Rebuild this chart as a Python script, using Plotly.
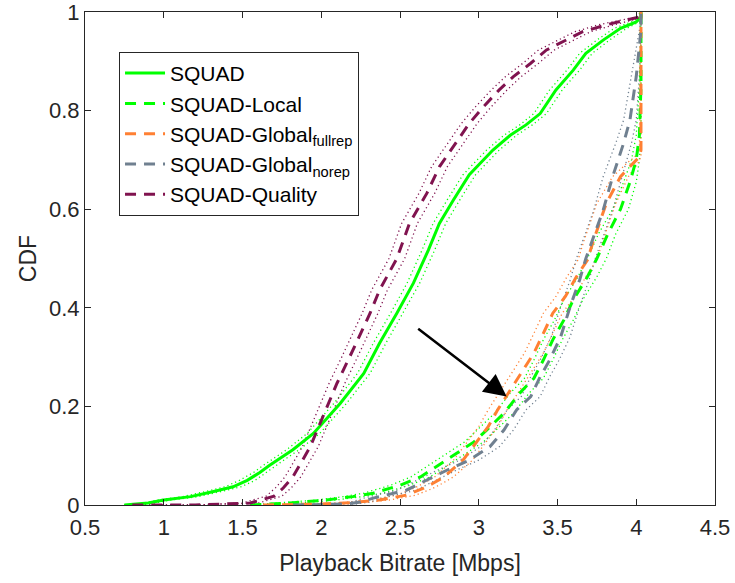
import plotly.graph_objects as go

# ---------------- data ----------------
squad_x = [0.75, 0.90, 1.00, 1.17, 1.31, 1.44, 1.53, 1.61, 1.67, 1.74, 1.82, 1.95, 2.12, 2.27, 2.37, 2.48, 2.585, 2.68, 2.75, 2.84, 2.94, 3.09, 3.20, 3.30, 3.39, 3.49, 3.60, 3.68, 3.79, 3.90, 4.00, 4.03, 4.03]
squad_y = [0, 0.004, 0.01, 0.017, 0.027, 0.037, 0.05, 0.066, 0.08, 0.095, 0.112, 0.145, 0.206, 0.267, 0.328, 0.389, 0.45, 0.517, 0.571, 0.619, 0.67, 0.72, 0.75, 0.771, 0.794, 0.842, 0.882, 0.916, 0.943, 0.967, 0.98, 0.99, 1.0]
squad_lo = [0.75, 0.87, 0.96, 1.12, 1.26, 1.39, 1.48, 1.57, 1.63, 1.70, 1.78, 1.91, 2.08, 2.23, 2.33, 2.44, 2.545, 2.64, 2.71, 2.80, 2.90, 3.05, 3.16, 3.26, 3.35, 3.45, 3.56, 3.64, 3.75, 3.86, 3.97, 4.02, 4.03]
squad_hi = [0.75, 0.94, 1.04, 1.22, 1.36, 1.49, 1.58, 1.65, 1.71, 1.78, 1.86, 1.99, 2.16, 2.31, 2.41, 2.52, 2.625, 2.72, 2.79, 2.88, 2.98, 3.13, 3.24, 3.34, 3.43, 3.53, 3.64, 3.72, 3.83, 3.94, 4.02, 4.03, 4.03]

local_x = [1.55, 1.80, 2.03, 2.20, 2.33, 2.50, 2.63, 2.73, 2.86, 2.97, 3.05, 3.16, 3.26, 3.35, 3.41, 3.47, 3.54, 3.60, 3.69, 3.75, 3.82, 3.90, 3.96, 4.00, 4.02, 4.03, 4.03]
local_y = [0, 0.004, 0.01, 0.017, 0.024, 0.04, 0.057, 0.078, 0.105, 0.128, 0.152, 0.186, 0.227, 0.257, 0.294, 0.335, 0.375, 0.416, 0.463, 0.50, 0.55, 0.60, 0.655, 0.70, 0.75, 0.85, 1.0]
local_lo = [1.55, 1.74, 1.97, 2.14, 2.27, 2.44, 2.57, 2.67, 2.80, 2.91, 2.99, 3.10, 3.20, 3.29, 3.35, 3.41, 3.48, 3.54, 3.63, 3.69, 3.76, 3.85, 3.92, 3.97, 4.00, 4.02, 4.03]
local_hi = [1.55, 1.86, 2.09, 2.26, 2.39, 2.56, 2.69, 2.79, 2.92, 3.03, 3.11, 3.22, 3.32, 3.41, 3.47, 3.53, 3.60, 3.66, 3.75, 3.81, 3.87, 3.95, 4.00, 4.02, 4.03, 4.03, 4.03]

full_x = [1.63, 2.00, 2.20, 2.37, 2.54, 2.65, 2.71, 2.78, 2.90, 2.98, 3.06, 3.12, 3.20, 3.28, 3.35, 3.41, 3.47, 3.55, 3.62, 3.69, 3.73, 3.81, 3.90, 3.98, 4.02, 4.03, 4.03]
full_y = [0, 0.002, 0.005, 0.01, 0.02, 0.034, 0.044, 0.057, 0.091, 0.125, 0.159, 0.193, 0.233, 0.274, 0.308, 0.348, 0.389, 0.423, 0.463, 0.497, 0.538, 0.612, 0.666, 0.693, 0.706, 0.72, 1.0]
full_lo = [1.63, 1.94, 2.14, 2.31, 2.48, 2.59, 2.65, 2.72, 2.84, 2.92, 3.00, 3.06, 3.14, 3.22, 3.29, 3.35, 3.41, 3.49, 3.56, 3.63, 3.67, 3.75, 3.85, 3.94, 3.99, 4.02, 4.03]
full_hi = [1.63, 2.06, 2.26, 2.43, 2.60, 2.71, 2.77, 2.84, 2.96, 3.04, 3.12, 3.18, 3.26, 3.34, 3.41, 3.47, 3.53, 3.61, 3.68, 3.75, 3.79, 3.87, 3.95, 4.01, 4.03, 4.03, 4.03]

norep_x = [1.82, 2.16, 2.25, 2.33, 2.54, 2.67, 2.80, 2.94, 3.07, 3.16, 3.24, 3.33, 3.39, 3.45, 3.52, 3.58, 3.64, 3.68, 3.79, 3.85, 3.92, 3.96, 4.00, 4.03, 4.03]
norep_y = [0, 0.002, 0.006, 0.014, 0.03, 0.051, 0.071, 0.091, 0.118, 0.152, 0.193, 0.22, 0.26, 0.294, 0.341, 0.402, 0.456, 0.50, 0.598, 0.666, 0.734, 0.781, 0.869, 0.963, 1.0]
norep_lo = [1.82, 2.10, 2.19, 2.27, 2.48, 2.61, 2.74, 2.88, 3.01, 3.10, 3.18, 3.27, 3.33, 3.39, 3.46, 3.52, 3.58, 3.62, 3.73, 3.79, 3.87, 3.92, 3.97, 4.02, 4.03]
norep_hi = [1.82, 2.22, 2.31, 2.39, 2.60, 2.73, 2.86, 3.00, 3.13, 3.22, 3.30, 3.39, 3.45, 3.51, 3.58, 3.64, 3.70, 3.74, 3.85, 3.91, 3.97, 4.00, 4.02, 4.03, 4.03]

qual_x = [0.80, 1.20, 1.55, 1.61, 1.70, 1.76, 1.82, 1.93, 2.01, 2.10, 2.18, 2.25, 2.31, 2.37, 2.43, 2.48, 2.56, 2.67, 2.75, 2.84, 2.94, 3.03, 3.13, 3.22, 3.33, 3.43, 3.56, 3.66, 3.81, 3.94, 4.02, 4.03]
qual_y = [0, 0, 0.004, 0.01, 0.018, 0.035, 0.057, 0.118, 0.179, 0.247, 0.30, 0.348, 0.389, 0.436, 0.47, 0.50, 0.571, 0.632, 0.686, 0.727, 0.774, 0.808, 0.842, 0.869, 0.896, 0.923, 0.943, 0.96, 0.974, 0.984, 0.99, 1.0]
qual_lo = [0.80, 1.20, 1.50, 1.56, 1.65, 1.71, 1.77, 1.88, 1.96, 2.05, 2.13, 2.20, 2.26, 2.32, 2.38, 2.43, 2.51, 2.62, 2.70, 2.79, 2.89, 2.98, 3.08, 3.17, 3.28, 3.38, 3.51, 3.61, 3.76, 3.90, 4.00, 4.03]
qual_hi = [0.80, 1.20, 1.60, 1.66, 1.75, 1.81, 1.87, 1.98, 2.06, 2.15, 2.23, 2.30, 2.36, 2.42, 2.48, 2.53, 2.61, 2.72, 2.80, 2.89, 2.99, 3.08, 3.18, 3.27, 3.38, 3.48, 3.61, 3.71, 3.86, 3.98, 4.03, 4.03]

x_ticks = [0.5, 1, 1.5, 2, 2.5, 3, 3.5, 4, 4.5]
x_tick_labels = ["0.5", "1", "1.5", "2", "2.5", "3", "3.5", "4", "4.5"]
y_ticks = [0, 0.2, 0.4, 0.6, 0.8, 1]
y_tick_labels = ["0", "0.2", "0.4", "0.6", "0.8", "1"]

arrow_tail = (2.606, 0.360)
arrow_tip = (3.177, 0.220)

# ---------------- styles ----------------
GREEN = "#00FF00"
ORANGE = "#FF8033"
GRAY = "#708090"
MAROON = "#80134F"
TXT = "#262626"
FONT = "Liberation Sans, Arial, Helvetica, sans-serif"
DASH = "11px,8px"
DOT = "1.2px,3px"

series = [
    ("SQUAD", squad_x, squad_y, squad_lo, squad_hi, GREEN, "solid"),
    ("SQUAD-Local", local_x, local_y, local_lo, local_hi, GREEN, DASH),
    ("SQUAD-Global<sub>fullrep</sub>", full_x, full_y, full_lo, full_hi, ORANGE, DASH),
    ("SQUAD-Global<sub>norep</sub>", norep_x, norep_y, norep_lo, norep_hi, GRAY, DASH),
    ("SQUAD-Quality", qual_x, qual_y, qual_lo, qual_hi, MAROON, DASH),
]

fig = go.Figure()
for name, x, y, lo, hi, col, dash in series:
    for bx in (lo, hi):
        fig.add_trace(go.Scatter(x=bx, y=y, mode="lines", showlegend=False,
                                 hoverinfo="skip",
                                 line=dict(color=col, width=1.3, dash=DOT)))
for name, x, y, lo, hi, col, dash in series:
    fig.add_trace(go.Scatter(x=x, y=y, mode="lines", name=name,
                             line=dict(color=col, width=3, dash=dash)))

fig.add_annotation(x=arrow_tip[0], y=arrow_tip[1], ax=arrow_tail[0], ay=arrow_tail[1],
                   xref="x", yref="y", axref="x", ayref="y", text="",
                   showarrow=True, arrowhead=2, arrowsize=1.8, arrowwidth=2.5,
                   arrowcolor="black")

axis_common = dict(showline=True, linecolor=TXT, linewidth=1, mirror="ticks",
                   ticks="inside", ticklen=6, tickcolor=TXT, showgrid=False,
                   zeroline=False, automargin=False, ticklabeloverflow="allow",
                   tickfont=dict(family=FONT, size=22, color=TXT))

fig.update_xaxes(range=[0.5, 4.5], tickvals=x_ticks, ticktext=x_tick_labels,
                 ticklabelstandoff=3,
                 title=dict(text="Playback Bitrate [Mbps]", standoff=15,
                            font=dict(family=FONT, size=23, color=TXT)),
                 **axis_common)
fig.update_yaxes(range=[0, 1], tickvals=y_ticks, ticktext=y_tick_labels,
                 title=dict(text="CDF", standoff=5,
                            font=dict(family=FONT, size=23, color=TXT)),
                 **axis_common)

fig.update_layout(
    width=735, height=583,
    margin=dict(l=85, r=20, t=12, b=78),
    plot_bgcolor="white", paper_bgcolor="white",
    legend=dict(x=0.054, y=0.919, xanchor="left", yanchor="top",
                bgcolor="white", bordercolor=TXT, borderwidth=1,
                font=dict(family=FONT, size=21, color="black"),
                tracegroupgap=0, itemwidth=40),
)

fig.write_html("out.html", config={"displayModeBar": False},
               post_script="document.body.style.margin='0';document.body.style.padding='0';")
